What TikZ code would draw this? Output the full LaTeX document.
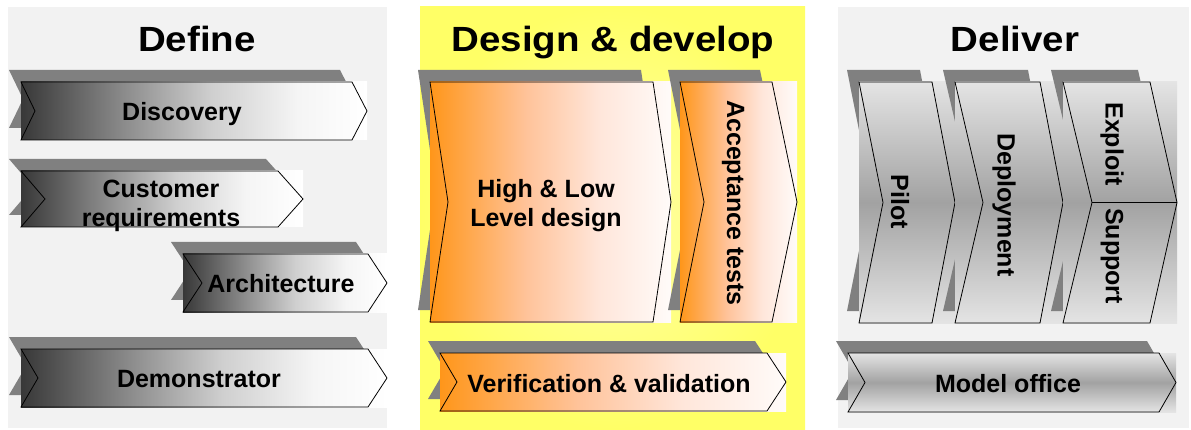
\documentclass[tikz,border=0pt]{standalone}
\usepackage{fontspec}
\newfontfamily\arialt{Liberation Sans}[FakeStretch=1.1]
\newfontfamily\arialb{Liberation Sans}
\definecolor{panelgray}{HTML}{F2F2F2}
\definecolor{shadowc}{HTML}{808080}
\definecolor{yel}{HTML}{FFFF66}
\definecolor{yellight}{HTML}{FFFFA8}
\definecolor{gA}{HTML}{383838}
\definecolor{gB}{HTML}{8C8C8C}
\definecolor{gC}{HTML}{CFCFCF}
\definecolor{gD}{HTML}{F5F5F5}
\definecolor{oA}{HTML}{FF961A}
\definecolor{oB}{HTML}{FFC39A}
\definecolor{oC}{HTML}{FFE6DA}
\definecolor{oD}{HTML}{FFFBF9}
\definecolor{dA}{HTML}{E4E4E4}
\definecolor{dB}{HTML}{A2A2A2}
% path bbox maps to 25bp..75bp of the declared shading
\pgfdeclarehorizontalshading{grayh}{100bp}{color(0bp)=(gA); color(25bp)=(gA); color(40bp)=(gB); color(52.5bp)=(gC); color(65bp)=(gD); color(75bp)=(white); color(100bp)=(white)}
\pgfdeclarehorizontalshading{orangeh}{100bp}{color(0bp)=(oA); color(25bp)=(oA); color(45bp)=(oB); color(60bp)=(oC); color(75bp)=(oD); color(100bp)=(oD)}
\pgfdeclareverticalshading{grayv}{100bp}{color(0bp)=(dA); color(25bp)=(dA); color(50bp)=(dB); color(75bp)=(dA); color(100bp)=(dA)}
\tikzset{
  outl/.style={draw=black, line width=0.8pt, line join=miter},
  shad/.style={fill=shadowc},
  lbl/.style={font=\arialb\bfseries\fontsize{25}{29}\selectfont, inner sep=0pt, align=center},
  ttl/.style={font=\arialt\bfseries\fontsize{35}{40}\selectfont, inner sep=0pt},
}
% #1 left, #2 top, #3 flat right, #4 tip, #5 bottom, #6 notch, #7 shading
\newcommand\chevshape[7]{%
  \pgfmathsetmacro\mY{(#2+#5)/2}%
  \fill[shad, shift={(-12,-12)}] (#1,#2) -- (#3,#2) -- (#4,\mY) -- (#3,#5) -- (#1,#5) -- (#6,\mY) -- cycle;
  \shade[shading=#7] (#1,#2) rectangle (#4,#5);
  \draw[outl] (#1,#2) -- (#3,#2) -- (#4,\mY) -- (#3,#5) -- (#1,#5) -- (#6,\mY) -- cycle;
}
\begin{document}
\begin{tikzpicture}[x=1pt,y=-1pt]
\useasboundingbox (0,0) rectangle (1191,430);
\fill[white] (0,0) rectangle (1191,430);
% panels
\fill[panelgray] (8,7) rectangle (387,428);
\fill[yel] (420,7) rectangle (805,429);
\shade[inner color=yellight, outer color=yel] (420,7) rectangle (805,429);
\fill[panelgray] (838,7) rectangle (1189,428);
% titles
\node[ttl, anchor=base] (tdef) at (197,52) {Define};
\node[ttl, anchor=base] (tdes) at (613,52) {Design \& develop};
\node[ttl, anchor=base] (tdel) at (1015,52) {Deliver};
% Define column
\chevshape{21}{82}{352}{367}{140}{35}{grayh}
\node[lbl, anchor=base] (disc) at (182,121) {Discovery};
\chevshape{21}{171}{278}{303}{227}{45}{grayh}
\node[lbl] (cust) at (161,206) {Customer\\requirements};
\chevshape{183}{254}{368}{387}{312}{202}{grayh}
\node[lbl, anchor=base] (arch) at (281,293) {Architecture};
\chevshape{21}{349}{368}{387}{407}{38}{grayh}
\node[lbl, anchor=base] (demo) at (199,387) {Demonstrator};
% Design & develop column
\chevshape{430}{82}{653}{671}{322}{448}{orangeh}
\node[lbl] (hl) at (546,206) {High \& Low\\Level design};
\chevshape{680}{82}{772}{797}{322}{704}{orangeh}
\node[lbl, rotate=-90] (acc) at (733,203) {Acceptance tests};
\chevshape{440}{353}{767}{786}{411}{457}{orangeh}
\node[lbl, anchor=base] (ver) at (609,392) {Verification \& validation};
% Deliver column
\chevshape{859}{82}{932}{955}{323}{883}{grayv}
\node[lbl, rotate=-90] (pil) at (900,202) {Pilot};
\chevshape{955}{82}{1040}{1063}{323}{983}{grayv}
\node[lbl, rotate=-90] (dep) at (1004,205) {Deployment};
\chevshape{1063}{82}{1150}{1177}{323}{1092}{grayv}
\coordinate (exn) at (1092,202.5);
\coordinate (ext) at (1177,202.5);
\draw[outl] (exn) -- (ext);
\node[lbl, rotate=-90] (expl) at (1112,144) {Exploit};
\node[lbl, rotate=-90] (supp) at (1112,256) {Support};
\chevshape{848}{353}{1159}{1176}{412}{865}{grayv}
\node[lbl, anchor=base] (mod) at (1008,392) {Model office};
\end{tikzpicture}
\end{document}
